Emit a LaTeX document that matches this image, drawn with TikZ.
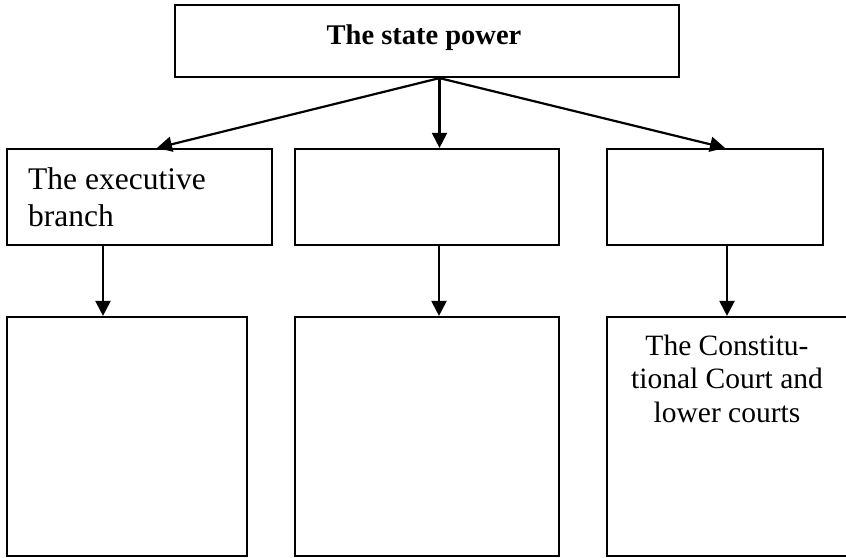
\documentclass[tikz,border=0pt]{standalone}
\usepackage{fontspec}
\setmainfont{Liberation Serif}
\usetikzlibrary{arrows.meta}
\begin{document}
\begin{tikzpicture}[x=1pt,y=-1pt,
  box/.style={draw=black,line width=2.2pt,rectangle,inner sep=0pt,fill=white},
  arr/.style={line width=2.2pt,-{Triangle[length=15pt,width=15pt]}},
  txt/.style={inner sep=0pt,font=\fontsize{29.5}{34}\selectfont},
  txtbig/.style={inner sep=0pt,font=\fontsize{31.5}{36}\selectfont},
  bold/.style={inner sep=0pt,font=\fontsize{28.5}{34}\selectfont\bfseries}]
\useasboundingbox (0,0) rectangle (846,557);
\fill[white] (0,0) rectangle (846,557);
% boxes
\node[box,minimum width=504pt,minimum height=72pt] (top) at (427,41) {};
\node[box,minimum width=265pt,minimum height=96pt] (ml) at (139.5,197) {};
\node[box,minimum width=264pt,minimum height=96pt] (mm) at (427,197) {};
\node[box,minimum width=216pt,minimum height=96pt] (mr) at (715,197) {};
\node[box,minimum width=240pt,minimum height=239pt] (bl) at (127,436.5) {};
\node[box,minimum width=264pt,minimum height=239pt] (bm) at (427,436.5) {};
\node[box,minimum width=243pt,minimum height=239pt] (br) at (728.5,436.5) {};
% texts
\node[bold,anchor=base] (tp) at (424,44) {The state power};
\node[txtbig,anchor=base west] (ex1) at (28,189) {The executive};
\node[txtbig,anchor=base west] (ex2) at (28,226) {branch};
\node[txt,anchor=base] (cc1) at (727,355) {The Constitu-};
\node[txt,anchor=base] (cc2) at (727,388) {tional Court and};
\node[txt,anchor=base] (cc3) at (727,422) {lower courts};
% connectors
\coordinate (src) at ([xshift=12.5pt]top.south);
\draw[arr] (src) -- ([xshift=17.5pt]ml.north);
\draw[arr] (src) -- ([xshift=12.5pt]mm.north);
\draw[arr] (src) -- ([xshift=10pt]mr.north);
\draw[arr] ([xshift=-36.5pt]ml.south) -- ([xshift=-24pt]bl.north);
\draw[arr] ([xshift=12pt]mm.south) -- ([xshift=12pt]bm.north);
\draw[arr] ([xshift=12pt]mr.south) -- ([xshift=-1.5pt]br.north);
\end{tikzpicture}
\end{document}
